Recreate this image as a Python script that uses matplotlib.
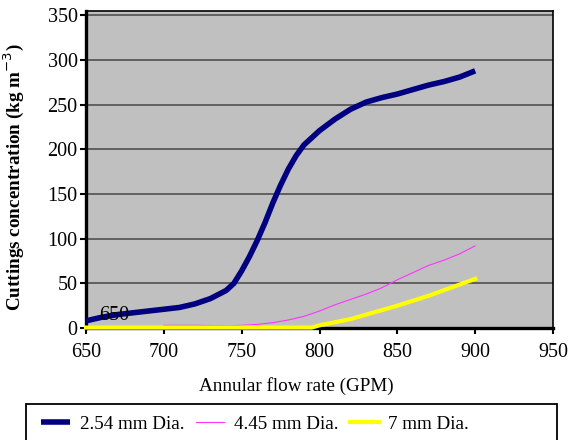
import matplotlib.pyplot as plt
from matplotlib.patches import Rectangle

# flow rate (GPM) and cuttings concentration (kg/m3)
x_254 = [650, 660, 670, 680, 690, 700, 710, 720, 730, 740, 745, 750, 755, 760, 765,
         770, 775, 780, 785, 790, 800, 810, 820, 830, 840, 850, 860, 870, 880, 890, 900]
y_254 = [8, 12, 15, 17, 19, 21, 23, 27, 33, 42, 50, 64, 80, 98, 118,
         140, 160, 178, 193, 205, 221, 234, 245, 253, 258, 262, 267, 272, 276, 281, 288]

x_445 = [700, 720, 740, 750, 760, 770, 780, 790, 800, 810, 820, 830, 840, 850,
         860, 870, 880, 890, 900]
y_445 = [3, 3, 2.5, 3, 4, 6, 9, 13, 19, 26, 32, 38, 45, 54, 62, 70, 76, 83, 92]

x_7 = [650, 700, 750, 795, 800, 820, 850, 870, 900]
y_7 = [0.5, 0.5, 0.5, 0.5, 3, 10, 25, 36, 55]

labels = ['2.54 mm Dia.', '4.45 mm Dia.', '7 mm Dia.']

plt.rcParams['font.family'] = ['Liberation Serif', 'DejaVu Serif']

fig = plt.figure(figsize=(5.74, 4.4), dpi=100)
ax = fig.add_axes([86/574, 1-328/440, 467/574, 317/440])
ax.set_facecolor('#c0c0c0')

for yv in range(50, 351, 50):
    ax.axhline(yv, color='#505050', lw=1.2, zorder=1)

l1, = ax.plot(x_254, y_254, color='#000080', lw=4.0, zorder=3, solid_capstyle='butt')
l2, = ax.plot(x_445, y_445, color='#ff33ff', lw=0.8, zorder=3)
l3, = ax.plot(x_7, y_7, color='#ffff00', lw=3.0, zorder=4, clip_on=False)

ax.text(668, 14, '650', ha='center', va='center', fontsize=14.5, zorder=5)

ax.set_xlim(650, 950)
ax.set_ylim(0, 355)
ax.set_xticks(range(650, 951, 50))
ax.set_yticks(range(0, 351, 50))
ax.tick_params(labelsize=14.5, direction='out', length=4, width=1.5, colors='black', pad=2)
ax.tick_params(axis='x', pad=7)

for s in ['left', 'bottom']:
    ax.spines[s].set_linewidth(2.4)
    ax.spines[s].set_zorder(2)
for s in ['top', 'right']:
    ax.spines[s].set_linewidth(1.2)

ax.set_xlabel('Annular flow rate (GPM)', fontsize=13.8)
ax.xaxis.set_label_coords((296-86)/467, -0.155)
ax.set_ylabel('Cuttings concentration (kg m$^{-3}$)', fontsize=13.8, fontweight='bold')
ax.yaxis.set_label_coords(-0.128, 0.476)

# legend box runs past the bottom edge, as in the reference
fig.patches.append(Rectangle((26/574, -0.05), 531/574, 0.05 + 1 - 404/440,
                             transform=fig.transFigure, fill=False,
                             edgecolor='black', lw=1.3))
fig.legend([l1, l2, l3], labels, loc='center left', ncol=3,
           bbox_to_anchor=(24/574, 1-424/440), fontsize=13.8, frameon=False,
           handlelength=1.5, handletextpad=0.5, columnspacing=0.6)

fig.savefig('out.png', dpi=100)
